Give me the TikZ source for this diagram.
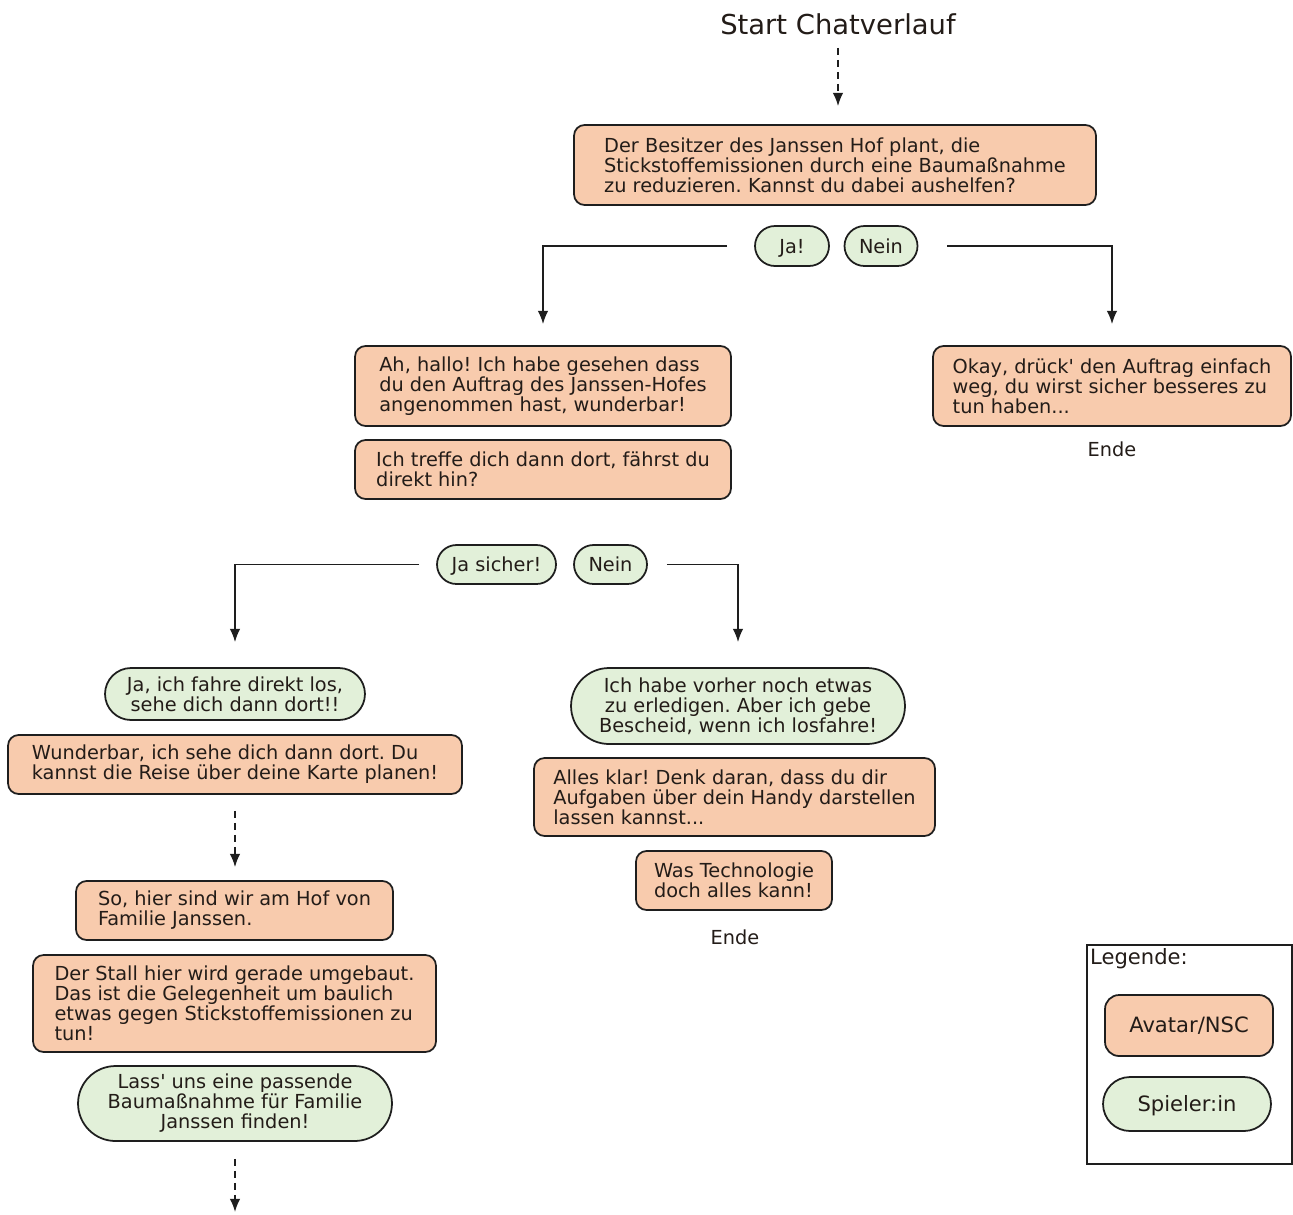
\documentclass[tikz,border=0pt]{standalone}
\usepackage{fontspec}
\setmainfont{DejaVu Sans}
\usepackage{tikz}
\usetikzlibrary{positioning,arrows.meta,shapes.misc}
\definecolor{colornpc}      {RGB}{248,203,173}
\definecolor{colorplayer}   {RGB}{226,240,217}
\definecolor{colortext}     {RGB}{35 ,28 ,24 }
\definecolor{colorline}     {RGB}{30 ,30 ,30 }
\frenchspacing

\begin{document}
\begin{tikzpicture}[
    x=0.02cm, y=-0.02cm,
    font={\fontsize{11}{11.4}\selectfont},
    npc/.style={draw=colorline,line width=1pt,fill=colornpc,rounded corners=6pt,
        text=colortext,align=left,inner sep=0pt},
    player/.style={draw=colorline,line width=1pt,fill=colorplayer,rounded rectangle,
        text=colortext,align=center,inner sep=0pt},
    oneline/.style={text height=8pt,text depth=0pt},
    flow/.style={-{Latex[length=7.5pt,width=6pt]},line width=1pt,draw=colorline},
    jump/.style={flow,dash pattern=on 0.14cm off 0.1cm},
    note/.style={text=colortext},
]
    \useasboundingbox (0,0) rectangle (1293,1214);

    % start
    \node[note,font={\fontsize{15.6}{18}\selectfont}] (start) at (838,24) {Start Chatverlauf};
    \node[npc,minimum width=10.44cm,minimum height=1.6cm] (q1) at (835,165) {Der Besitzer des Janssen Hof plant, die\\
    Stickstoffemissionen durch eine Baumaßnahme\\
    zu reduzieren. Kannst du dabei aushelfen?};
    \draw[jump,shorten <=0.14cm,shorten >=0.36cm] (start.south) -- (start.south |- q1.north);

    % first choice
    \node[player,oneline,minimum width=1.48cm,minimum height=0.8cm] (ja1) at (792,246) {Ja!};
    \node[player,oneline,minimum width=1.46cm,minimum height=0.8cm] (nein1) at (881,246) {Nein};

    \node[npc,minimum width=7.52cm,minimum height=1.6cm] (a2) at (543,386) {Ah, hallo! Ich habe gesehen dass\\
    du den Auftrag des Janssen-Hofes\\
    angenommen hast, wunderbar!};
    \node[npc,minimum width=7.52cm,minimum height=1.18cm] (a3) at (543,469.5) {Ich treffe dich dann dort, fährst du\\
    direkt hin?};
    \node[npc,minimum width=7.16cm,minimum height=1.6cm] (r1) at (1112,386) {Okay, drück\textquotesingle{} den Auftrag einfach\\
    weg, du wirst sicher besseres zu\\
    tun haben...};
    \node[note] (ende1) at (1112,449) {Ende};

    \draw[flow,shorten >=0.42cm] ([xshift=-0.54cm]ja1.west) -| (a2.north);
    \draw[flow,shorten >=0.42cm] ([xshift=0.58cm]nein1.east) -| (r1.north);

    % second choice
    \node[player,oneline,minimum width=2.38cm,minimum height=0.78cm] (ja2) at (496.5,564.5) {Ja sicher!};
    \node[player,oneline,minimum width=1.46cm,minimum height=0.78cm] (nein2) at (610.5,564.5) {Nein};

    \node[player,minimum width=5.2cm,minimum height=1.04cm] (p1) at (235,694) {Ja, ich fahre direkt los,\\
    sehe dich dann dort!!};
    \node[npc,minimum width=9.08cm,minimum height=1.18cm] (a4) at (235,764.5) {Wunderbar, ich sehe dich dann dort. Du\\
    kannst die Reise über deine Karte planen!};
    \node[npc,minimum width=6.34cm,minimum height=1.18cm] (a5) at (234.5,910.5) {So, hier sind wir am Hof von\\
    Familie Janssen.};
    \node[npc,minimum width=8.06cm,minimum height=1.94cm] (a6) at (234.5,1003.5) {Der Stall hier wird gerade umgebaut.\\
    Das ist die Gelegenheit um baulich\\
    etwas gegen Stickstoffemissionen zu\\
    tun!};
    \node[player,minimum width=6.28cm,minimum height=1.5cm] (p2) at (235,1103.5) {Lass\textquotesingle{} uns eine passende\\
    Baumaßnahme für Familie\\
    Janssen finden!};
    \coordinate (more) at (235,1212);

    \node[player,minimum width=6.68cm,minimum height=1.52cm] (p3) at (738,706) {Ich habe vorher noch etwas\\
    zu erledigen. Aber ich gebe\\
    Bescheid, wenn ich losfahre!};
    \node[npc,minimum width=8.02cm,minimum height=1.56cm] (a7) at (734.5,797) {Alles klar! Denk daran, dass du dir\\
    Aufgaben über dein Handy darstellen\\
    lassen kannst...};
    \node[npc,minimum width=3.92cm,minimum height=1.18cm] (a8) at (734,880.5) {Was Technologie\\
    doch alles kann!};
    \node[note] (ende2) at (735,937) {Ende};

    \draw[flow,shorten >=0.5cm] ([xshift=-0.34cm]ja2.west) -| (p1.north);
    \draw[flow,shorten >=0.5cm] ([xshift=0.38cm]nein2.east) -| (p3.north);
    \draw[jump,shorten <=0.32cm,shorten >=0.26cm] (a4.south) -- (a4.south |- a5.north);
    \draw[jump,shorten <=0.34cm] (p2.south) -- (more);

    % legend
    \node[draw=colorline,line width=0.8pt,minimum width=4.1cm,minimum height=4.38cm] (legend) at (1189.5,1054.5) {};
    \node[note,anchor=north west,inner sep=2pt,font={\fontsize{12}{14}\selectfont}] (legendtitle) at (legend.north west) {Legende:};
    \node[npc,oneline,align=center,minimum width=3.36cm,minimum height=1.22cm,rounded corners=8pt,font={\fontsize{12}{14}\selectfont}] (legendnpc) at (1189,1025.5) {Avatar/NSC};
    \node[player,oneline,minimum width=3.36cm,minimum height=1.08cm,font={\fontsize{12}{14}\selectfont}] (legendplayer) at (1187,1104) {Spieler:in};

\end{tikzpicture}
\end{document}
